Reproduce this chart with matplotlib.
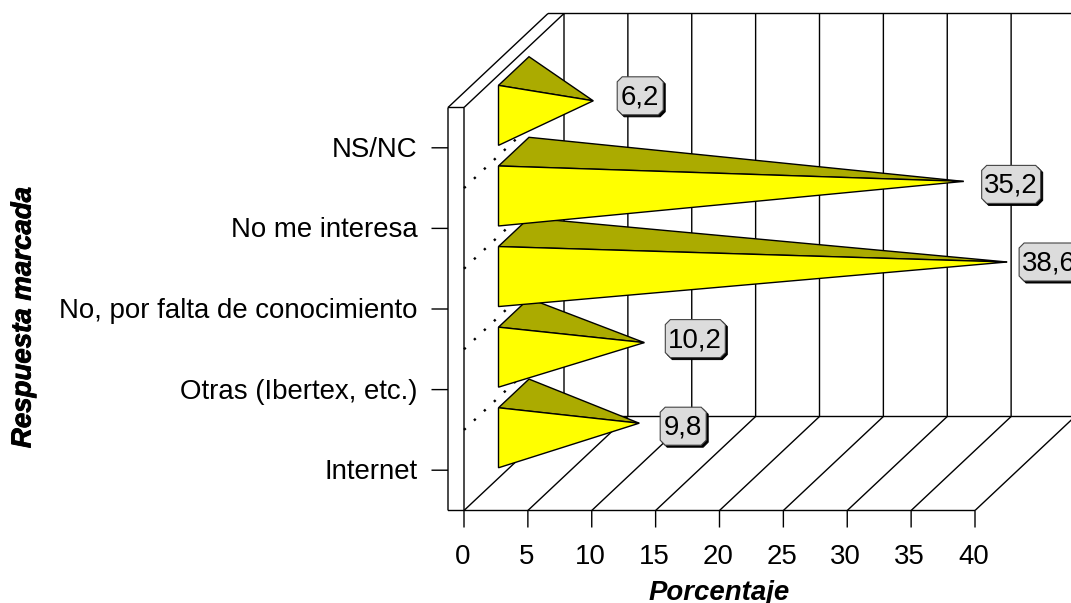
import matplotlib
matplotlib.use("Agg")
import matplotlib.pyplot as plt
import matplotlib.patheffects as pe
from matplotlib.patches import Polygon

plt.rcParams["font.family"] = ["Liberation Sans", "DejaVu Sans"]

# Survey answers, listed from the bottom of the chart upwards
categories = ["Internet", "Otras (Ibertex, etc.)", "No, por falta de conocimiento",
              "No me interesa", "NS/NC"]
percentages = [9.8, 10.2, 38.6, 35.2, 6.2]
value_ticks = [0, 5, 10, 15, 20, 25, 30, 35, 40]
x_title = "Porcentaje"
y_title = "Respuesta marcada"

# Offsets of each value label from the tip of its pyramid: (left edge, centre height), pixels
label_offsets = [(21, 3), (21, -4), (12, 0), (18, 3), (24, -5)]
label_widths = [46, 60, 60, 59, 46]
FONT_SIZE = 19.9

# Oblique projection of the 3-D frame, in pixels
X0, Y_FLOOR, Y_TOP = 464.0, 510.5, 107.5
PX_PER_UNIT = 12.775
DEPTH_X, DEPTH_Y = 100.0, 94.0
WALL = 16.0
BAND = (Y_FLOOR - Y_TOP) / len(categories)
BAR_FILL = 60.0 / BAND


def project(value, level, depth=0.0):
    """Map (value, category level, depth 0..1) to pixel coordinates."""
    return (X0 + value * PX_PER_UNIT + depth * DEPTH_X,
            Y_FLOOR - level * BAND - depth * DEPTH_Y)


fig = plt.figure(figsize=(10.71, 6.03), dpi=100)
ax = fig.add_axes([0, 0, 1, 1])
ax.set_xlim(0, 1071)
ax.set_ylim(603, 0)
ax.axis("off")


def seg(p, q, lw=1.0, color="black", z=1, **kw):
    ax.plot([p[0], q[0]], [p[1], q[1]], color=color, lw=lw, zorder=z,
            solid_capstyle="butt", snap=False, **kw)


n = len(categories)
top = max(value_ticks)
right_edge = (1071 - X0 - DEPTH_X) / PX_PER_UNIT + 1

# Back wall and floor grid
for v in value_ticks:
    seg(project(v, 0, 1), project(v, n, 1))
    seg(project(v, 0, 0), project(v, 0, 1))
seg(project(0, n, 1), project(right_edge, n, 1))
seg(project(0, 0, 1), project(right_edge, 0, 1))

# Left wall strip
outer_x = X0 - WALL
seg((outer_x, Y_TOP), (outer_x, Y_FLOOR))
seg((X0, Y_TOP), (X0, Y_FLOOR))
seg((outer_x, Y_TOP), (X0, Y_TOP))
seg((outer_x, Y_TOP), (outer_x + DEPTH_X, Y_TOP - DEPTH_Y))
seg(project(0, n, 0), project(0, n, 1))
seg((outer_x + DEPTH_X, Y_TOP - DEPTH_Y), project(0, n, 1))
seg((outer_x, Y_FLOOR), project(top, 0, 0))

# Tick marks and their labels
for v in value_ticks:
    x, y = project(v, 0)
    seg((x, y), (x, y + 17))
    ax.text(x - 1.5, 557, str(v), ha="center", va="center", fontsize=FONT_SIZE)
for i, name in enumerate(categories):
    x, y = project(0, i + 0.5)
    seg((outer_x - 16.5, y), (outer_x, y))
    ax.text(417.5, y + 2, name, ha="right", va="center", fontsize=FONT_SIZE)

# Dotted category separators on the side wall
for i in range(1, n):
    p, q = project(0, i, 0), project(0, i, 1)
    ax.plot([p[0], q[0]], [p[1], q[1]], color="black", lw=1.7, zorder=2,
            linestyle=(0, (1.0, 4.8)), dash_capstyle="butt")

# Pyramids: lower categories first, so upper ones overlap them
DEPTH_FRONT, DEPTH_BACK = 0.345, 0.65
margin = (1 - BAR_FILL) / 2
for i, v in enumerate(percentages):
    z = 3 + i
    front_bottom = project(0, i + margin, DEPTH_FRONT)
    front_top = project(0, i + 1 - margin, DEPTH_FRONT)
    back_top = project(0, i + 1 - margin, DEPTH_BACK)
    tip = project(v, i + 0.5, 0.5)
    ax.add_patch(Polygon([front_top, back_top, tip], closed=True, fc="#ABAB00",
                         ec="black", lw=1.0, zorder=z, joinstyle="miter"))
    ax.add_patch(Polygon([front_top, front_bottom, tip], closed=True, fc="#FFFF00",
                         ec="black", lw=1.0, zorder=z, joinstyle="miter"))

    # Value label in a chamfered box with a hard shadow
    off_x, off_y = label_offsets[i]
    left, cy = tip[0] + off_x, tip[1] + off_y
    w, h, c = label_widths[i], 38.0, 5.0
    outline = [(left + c, cy - h / 2), (left + w - c, cy - h / 2), (left + w, cy - h / 2 + c),
               (left + w, cy + h / 2 - c), (left + w - c, cy + h / 2), (left + c, cy + h / 2),
               (left, cy + h / 2 - c), (left, cy - h / 2 + c)]
    ax.add_patch(Polygon([(a + 2, b + 2) for a, b in outline], closed=True, fc="black",
                         ec="black", lw=0.7, zorder=20))
    ax.add_patch(Polygon(outline, closed=True, fc="#DCDCDC", ec="#444444", lw=0.8, zorder=21))
    ax.text(left + w / 2, cy + 1.5, f"{v:.1f}".replace(".", ","), ha="center", va="center",
            fontsize=FONT_SIZE, zorder=22)

# Axis titles; the horizontal one runs off the bottom edge as laid out
ax.text(719, 600, x_title, ha="center", va="baseline", fontsize=FONT_SIZE,
        fontweight="bold", fontstyle="italic")
ax.text(23.5, 317.5, y_title, ha="center", va="center", rotation=90, fontsize=FONT_SIZE,
        fontweight="bold", fontstyle="italic",
        path_effects=[pe.withStroke(linewidth=0.6, foreground="black")])

fig.savefig("out.png", dpi=100)
